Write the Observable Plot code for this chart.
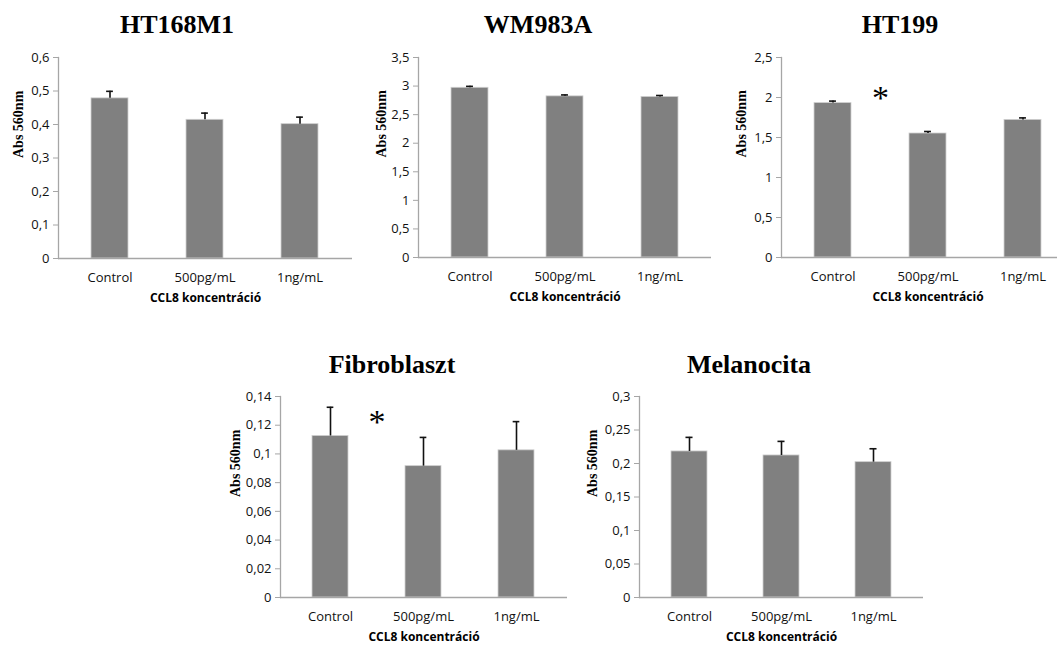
<!DOCTYPE html>
<html><head><meta charset="utf-8">
<script src="https://cdn.jsdelivr.net/npm/d3@7"></script>
<script src="https://cdn.jsdelivr.net/npm/@observablehq/plot@0.6"></script>
<style>
html,body{margin:0;padding:0;background:#fff;overflow:hidden}
#root{position:relative;width:1057px;height:646px;overflow:hidden;background:#fff}
.title{position:absolute;font-family:"Liberation Serif","Times New Roman",serif;font-weight:bold;font-size:26px;line-height:26px;transform:translateX(-50%);white-space:nowrap;color:#000}
.panel{position:absolute}
</style></head><body><div id="root"></div>
<script>
// ---- data ----
const categories = ["Control", "500pg/mL", "1ng/mL"];
const panelTitles = ["HT168M1", "WM983A", "HT199", "Fibroblaszt", "Melanocita"];
const yAxisLabel = "Abs 560nm";
const xAxisLabel = "CCL8 koncentráció";

const ht168m1Means = [0.478, 0.414, 0.401];
const ht168m1Errors = [0.021, 0.020, 0.021];
const wm983aMeans = [2.97, 2.82, 2.81];
const wm983aErrors = [0.025, 0.025, 0.025];
const ht199Means = [1.93, 1.55, 1.72];
const ht199Errors = [0.025, 0.025, 0.025];
const fibroMeans = [0.1125, 0.0915, 0.1025];
const fibroErrors = [0.020, 0.020, 0.020];
const melanoMeans = [0.218, 0.212, 0.202];
const melanoErrors = [0.021, 0.021, 0.020];

const ht168m1Ticks = [0, 0.1, 0.2, 0.3, 0.4, 0.5, 0.6];
const wm983aTicks = [0, 0.5, 1, 1.5, 2, 2.5, 3, 3.5];
const ht199Ticks = [0, 0.5, 1, 1.5, 2, 2.5];
const fibroTicks = [0, 0.02, 0.04, 0.06, 0.08, 0.1, 0.12, 0.14];
const melanoTicks = [0, 0.05, 0.1, 0.15, 0.2, 0.25, 0.3];

// significance marks: placed between two categories
const ht199Stars = [{from: "Control", to: "500pg/mL", y: 2.03}];
const fibroStars = [{from: "Control", to: "500pg/mL", y: 0.1245}];

// ---- layout ----
const mL = 62, mR = 6, mT = 12, mB = 54;
const panels = [
  {title: panelTitles[0], means: ht168m1Means, errors: ht168m1Errors, ticks: ht168m1Ticks, stars: [],
   fx: 58, fy: 57, fw: 294, fh: 201, tx: 177, ty: 12, yl: 40},
  {title: panelTitles[1], means: wm983aMeans, errors: wm983aErrors, ticks: wm983aTicks, stars: [],
   fx: 418, fy: 57, fw: 293, fh: 200, tx: 538, ty: 12, yl: 37},
  {title: panelTitles[2], means: ht199Means, errors: ht199Errors, ticks: ht199Ticks, stars: ht199Stars,
   fx: 781, fy: 57, fw: 293, fh: 200, tx: 900, ty: 12, yl: 40},
  {title: panelTitles[3], means: fibroMeans, errors: fibroErrors, ticks: fibroTicks, stars: fibroStars,
   fx: 280, fy: 396, fw: 287, fh: 201, tx: 392, ty: 352, yl: 45},
  {title: panelTitles[4], means: melanoMeans, errors: melanoErrors, ticks: melanoTicks, stars: [],
   fx: 639, fy: 396, fw: 284, fh: 201, tx: 749, ty: 352, yl: 47}
];

const root = document.getElementById("root");
const fmt = d => String(d).replace(".", ",");
const axisColor = "#a6a6a6";

for (const p of panels) {
  const data = categories.map((c, i) => ({cat: c, mean: p.means[i], err: p.errors[i]}));
  const pi = 0.61, po = 0.345;
  const step = p.fw / (categories.length - pi + 2 * po);
  const bw = step * (1 - pi);
  const capW = 7;
  const chart = Plot.plot({
    width: p.fw + mL + mR,
    height: p.fh + mT + mB,
    marginLeft: mL, marginRight: mR, marginTop: mT, marginBottom: mB,
    style: {fontFamily: "'Open Sans', sans-serif", fontSize: "13px", color: "#000", background: "transparent", overflow: "visible"},
    x: {domain: categories, paddingInner: pi, paddingOuter: po, label: null},
    y: {domain: [0, p.ticks[p.ticks.length - 1]], label: null},
    marks: [
      Plot.barY(data, {x: "cat", y: "mean", fill: "#808080", stroke: "#cfcfcf", strokeWidth: 0.8}),
      Plot.ruleX(data, {x: "cat", y1: "mean", y2: d => d.mean + d.err, stroke: "#111", strokeWidth: 1.6}),
      Plot.tickY(data, {x: "cat", y: d => d.mean + d.err, stroke: "#111", strokeWidth: 1.6, inset: (bw - capW) / 2}),
      Plot.ruleY([0], {stroke: axisColor, strokeWidth: 1.3}),
      Plot.frame({anchor: "left", stroke: axisColor, strokeWidth: 1.3}),
      Plot.axisY({ticks: p.ticks, tickFormat: fmt, tickSize: 5, tickPadding: 4, stroke: axisColor, fill: "#111", fontSize: 13, label: null}),
      Plot.axisX({tickSize: 0, tickPadding: 14, fill: "#111", fontSize: 13, label: null}),
      Plot.text([yAxisLabel], {frameAnchor: "left", rotate: -90, dx: -p.yl, fontFamily: "'Liberation Serif', serif", fontWeight: "bold", fontSize: 14}),
      Plot.text([xAxisLabel], {frameAnchor: "bottom", dy: 43, fontWeight: "bold", fontSize: 12}),
      Plot.text(p.stars, {x: "from", y: "y", text: () => "*", dx: step / 2, dy: 3, fontFamily: "'Liberation Serif', serif", fontSize: 34})
    ]
  });
  chart.classList.add("panel");
  chart.style.left = (p.fx - mL) + "px";
  chart.style.top = (p.fy - mT) + "px";
  root.appendChild(chart);
  const t = document.createElement("div");
  t.className = "title";
  t.textContent = p.title;
  t.style.left = p.tx + "px";
  t.style.top = p.ty + "px";
  root.appendChild(t);
}
</script></body></html>
